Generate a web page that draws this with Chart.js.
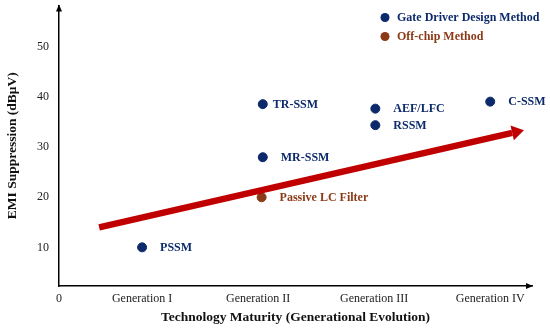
<!DOCTYPE html>
<html lang="en">
  <head>
    <meta charset="utf-8">
    <title>EMI suppression vs technology maturity</title>
    <script src="https://cdn.jsdelivr.net/npm/chart.js"></script>
    <style>
      html, body { margin: 0; padding: 0; background: #fff; }
      #wrap { width: 550px; height: 330px; }
    </style>
  </head>
  <body>
    <div id="wrap"><canvas id="chart"></canvas></div>
    <script>
      // Data
      const generations = ["Generation I", "Generation II", "Generation III", "Generation IV"];
      const yTicks = [10, 20, 30, 40, 50];

      const gateNames = ["PSSM", "TR-SSM", "MR-SSM", "AEF/LFC", "RSSM", "C-SSM"];
      const gateGen = [1, 2.04, 2.04, 3.01, 3.01, 4];
      const gateEmi = [10, 38.6, 28, 37.7, 34.4, 39.1];

      const offNames = ["Passive LC Filter"];
      const offGen = [2.03];
      const offEmi = [20];

      // trend arrow, start -> tip
      const trendGen = [0.63, 4.29];
      const trendEmi = [14, 33.4];

      const NAVY = "#0c2a6b";
      const BROWN = "#8b3a16";
      const RED = "#c00000";
      const SERIF = "'Liberation Serif', 'Times New Roman', serif";

      const X_MIN = 0.284, X_MAX = 4.36;

      // label nudges (px), default 18
      const labelDx = { "TR-SSM": 10 };

      const toPoints = (xs, ys) => xs.map((x, i) => ({ x, y: ys[i] }));

      const decorPlugin = {
        id: "decor",
        afterDatasetsDraw(chart) {
          const { ctx, chartArea: a, scales: { x, y } } = chart;
          ctx.save();

          // axis arrowheads
          ctx.fillStyle = "#000";
          ctx.beginPath();
          ctx.moveTo(a.right + 1, a.bottom);
          ctx.lineTo(a.right - 6, a.bottom - 3);
          ctx.lineTo(a.right - 6, a.bottom + 3);
          ctx.closePath();
          ctx.fill();
          ctx.beginPath();
          ctx.moveTo(a.left, a.top - 1);
          ctx.lineTo(a.left - 3, a.top + 6);
          ctx.lineTo(a.left + 3, a.top + 6);
          ctx.closePath();
          ctx.fill();

          // trend arrow
          const x0 = x.getPixelForValue(trendGen[0]), y0 = y.getPixelForValue(trendEmi[0]);
          const x1 = x.getPixelForValue(trendGen[1]), y1 = y.getPixelForValue(trendEmi[1]);
          const ang = Math.atan2(y1 - y0, x1 - x0);
          const headLen = 12, headW = 7.5;
          const bx = x1 - headLen * Math.cos(ang), by = y1 - headLen * Math.sin(ang);
          ctx.strokeStyle = RED;
          ctx.lineWidth = 6.5;
          ctx.lineCap = "butt";
          ctx.beginPath();
          ctx.moveTo(x0, y0);
          ctx.lineTo(bx, by);
          ctx.stroke();
          ctx.fillStyle = RED;
          ctx.beginPath();
          ctx.moveTo(x1, y1);
          ctx.lineTo(bx + headW * Math.sin(ang), by - headW * Math.cos(ang));
          ctx.lineTo(bx - headW * Math.sin(ang), by + headW * Math.cos(ang));
          ctx.closePath();
          ctx.fill();

          // point labels
          ctx.font = "bold 12px " + SERIF;
          ctx.textBaseline = "middle";
          ctx.textAlign = "left";
          const label = (names, xs, ys, color) => {
            ctx.fillStyle = color;
            names.forEach((n, i) => {
              const dx = labelDx[n] ?? 18;
              ctx.fillText(n, x.getPixelForValue(xs[i]) + dx, y.getPixelForValue(ys[i]) + 0.5);
            });
          };
          label(gateNames, gateGen, gateEmi, NAVY);
          label(offNames, offGen, offEmi, BROWN);

          // legend
          chart.data.datasets.forEach((ds, i) => {
            const lx = a.left + 326, ly = a.top + 12 + i * 19;
            ctx.fillStyle = ds.backgroundColor;
            ctx.beginPath();
            ctx.arc(lx, ly, 4.5, 0, Math.PI * 2);
            ctx.fill();
            ctx.fillText(ds.label, lx + 12, ly + 0.5);
          });

          ctx.restore();
        }
      };

      new Chart(document.getElementById("chart").getContext("2d"), {
        type: "scatter",
        data: {
          datasets: [
            {
              label: "Gate Driver Design Method",
              data: toPoints(gateGen, gateEmi),
              backgroundColor: NAVY,
              borderColor: NAVY,
              pointRadius: 4.5,
            },
            {
              label: "Off-chip Method",
              data: toPoints(offGen, offEmi),
              backgroundColor: BROWN,
              borderColor: BROWN,
              pointRadius: 4.5,
            },
          ]
        },
        options: {
          responsive: true,
          maintainAspectRatio: false,
          animation: false,
          layout: { padding: { top: 3, right: 18, left: 0, bottom: 0 } },
          plugins: { legend: { display: false }, tooltip: { enabled: false } },
          scales: {
            x: {
              type: "linear",
              min: X_MIN,
              max: X_MAX,
              afterFit: s => { s.height = 44; s.paddingLeft = 0; s.paddingRight = 0; },
              afterBuildTicks: s => {
                s.ticks = [{ value: X_MIN }].concat(generations.map((g, i) => ({ value: i + 1 })));
              },
              grid: { display: false, drawTicks: false },
              border: { display: true, color: "#000", width: 1.5 },
              ticks: {
                padding: 6,
                color: "#222",
                font: { family: SERIF, size: 12 },
                maxRotation: 0,
                callback: v => v === X_MIN ? "0" : generations[Math.round(v) - 1],
              },
              title: {
                display: true,
                text: "Technology Maturity (Generational Evolution)",
                color: "#111",
                font: { family: SERIF, size: 13.5, weight: "bold" },
                padding: { top: 6, bottom: 4 },
              },
            },
            y: {
              min: 2.28,
              max: 58.3,
              afterFit: s => { s.width = 59; s.paddingTop = 0; s.paddingBottom = 0; },
              afterBuildTicks: s => { s.ticks = yTicks.map(v => ({ value: v })); },
              grid: { display: false, drawTicks: false },
              border: { display: true, color: "#000", width: 1.5 },
              ticks: {
                padding: 10,
                color: "#222",
                font: { family: SERIF, size: 12 },
              },
              title: {
                display: true,
                text: "EMI Suppression (dBμV)",
                color: "#111",
                font: { family: SERIF, size: 13.5, weight: "bold" },
                padding: { top: 4, bottom: 4 },
              },
            },
          }
        },
        plugins: [decorPlugin]
      });
    </script>
  </body>
</html>
